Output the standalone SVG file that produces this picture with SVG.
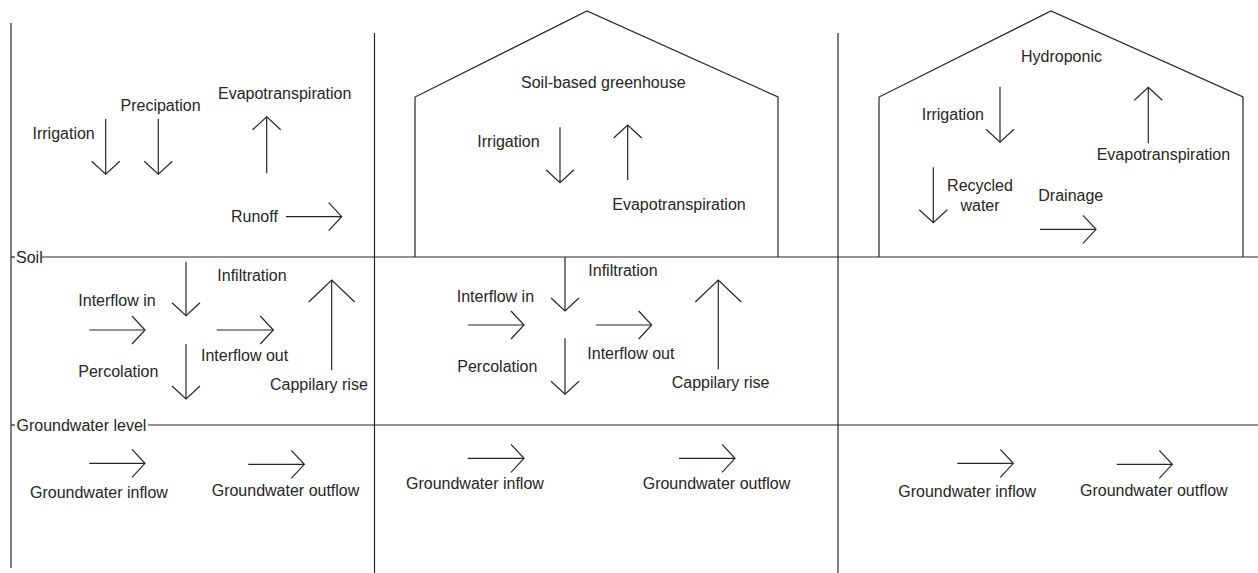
<svg xmlns="http://www.w3.org/2000/svg" width="1258" height="573" viewBox="0 0 1258 573">
<style>
.ln{stroke:#262626;stroke-width:1.2;fill:none}
.ar{stroke:#262626;stroke-width:1.2;fill:none;marker-end:url(#head)}
.arb{stroke:#262626;stroke-width:1.2;fill:none;marker-end:url(#headBig)}
text{font-family:"Liberation Sans",Arial,sans-serif;font-size:16px;fill:#262626}
</style>
<defs>
<marker id="head" markerUnits="userSpaceOnUse" viewBox="-15 -16 17 32" markerWidth="17" markerHeight="32" refX="0" refY="0" orient="auto">
<path d="M-13,-14 L0,0 L-13,14" fill="none" stroke="#262626" stroke-width="1.2"/>
</marker>
<marker id="headBig" markerUnits="userSpaceOnUse" viewBox="-24 -25 26 50" markerWidth="26" markerHeight="50" refX="0" refY="0" orient="auto">
<path d="M-22,-23 L0,0 L-22,23" fill="none" stroke="#262626" stroke-width="1.2"/>
</marker>
</defs>
<rect width="1258" height="573" fill="#fff"/>
<g id="frame">
<line class="ln" x1="11" y1="23" x2="11" y2="568"/>
<line class="ln" x1="374.5" y1="33" x2="374.5" y2="573"/>
<line class="ln" x1="838" y1="33" x2="838" y2="573"/>
<line class="ln" x1="11" y1="257" x2="15" y2="257"/>
<line class="ln" x1="42" y1="257" x2="1258" y2="257"/>
<line class="ln" x1="11" y1="425" x2="15" y2="425"/>
<line class="ln" x1="148" y1="425" x2="1258" y2="425"/>
<text x="16" y="262.5">Soil</text>
<text x="16.5" y="430.5">Groundwater level</text>
</g>
<g id="greenhouse-soil">
<polyline class="ln" points="415,257 415,97 587,11 778,97 778,257"/>
<text x="521" y="87.5">Soil-based greenhouse</text>
</g>
<g id="greenhouse-hydroponic">
<polyline class="ln" points="879,257 879,97 1051,11 1243,97 1243,257"/>
<text x="1021" y="61.5">Hydroponic</text>
</g>
<g id="labels-open-field">
<text x="32.5" y="139">Irrigation</text>
<text x="120.5" y="110.5">Precipation</text>
<text x="218" y="99">Evapotranspiration</text>
<text x="231" y="222.3">Runoff</text>
<text x="217.3" y="280.7">Infiltration</text>
<text x="78.3" y="306">Interflow in</text>
<text x="201" y="361">Interflow out</text>
<text x="78.3" y="377.3">Percolation</text>
<text x="270" y="390">Cappilary rise</text>
<text x="30" y="497.5">Groundwater inflow</text>
<text x="211.7" y="496">Groundwater outflow</text>
</g>
<g id="labels-soil-greenhouse">
<text x="477.3" y="146.5">Irrigation</text>
<text x="612.3" y="210">Evapotranspiration</text>
<text x="588.3" y="275.7">Infiltration</text>
<text x="456.7" y="302.3">Interflow in</text>
<text x="587.3" y="359">Interflow out</text>
<text x="457.3" y="371.7">Percolation</text>
<text x="671.7" y="388.3">Cappilary rise</text>
<text x="406" y="489">Groundwater inflow</text>
<text x="642.7" y="489">Groundwater outflow</text>
</g>
<g id="labels-hydroponic">
<text x="921.7" y="120">Irrigation</text>
<text x="1096.7" y="160">Evapotranspiration</text>
<text x="980" y="190.7" text-anchor="middle">Recycled</text>
<text x="980" y="210.7" text-anchor="middle">water</text>
<text x="1038.3" y="200.7">Drainage</text>
<text x="898.3" y="497.3">Groundwater inflow</text>
<text x="1080" y="495.7">Groundwater outflow</text>
</g>
<g id="connectors">
<line class="ar" x1="105.7" y1="119" x2="105.7" y2="174.3"/>
<line class="ar" x1="158.3" y1="119" x2="158.3" y2="174.3"/>
<line class="ar" x1="266.7" y1="173.3" x2="266.7" y2="116.7"/>
<line class="ar" x1="286" y1="216.7" x2="341.7" y2="216.7"/>
<line class="ar" x1="186" y1="261.7" x2="186" y2="315.7"/>
<line class="ar" x1="89.3" y1="330" x2="145" y2="330"/>
<line class="ar" x1="216.7" y1="330" x2="273.3" y2="330"/>
<line class="ar" x1="186" y1="344" x2="186" y2="399"/>
<line class="arb" x1="331.7" y1="370" x2="331.7" y2="280"/>
<line class="ar" x1="89.3" y1="463.3" x2="145" y2="463.3"/>
<line class="ar" x1="248.3" y1="464.3" x2="304.3" y2="464.3"/>
<line class="ar" x1="560" y1="127.3" x2="560" y2="182.7"/>
<line class="ar" x1="627.7" y1="180" x2="627.7" y2="125"/>
<line class="ar" x1="565" y1="257" x2="565" y2="311"/>
<line class="ar" x1="467.7" y1="325" x2="524" y2="325"/>
<line class="ar" x1="595.7" y1="325" x2="651.7" y2="325"/>
<line class="ar" x1="565" y1="338.3" x2="565" y2="394.3"/>
<line class="arb" x1="718.3" y1="369.3" x2="718.3" y2="280"/>
<line class="ar" x1="467.7" y1="458.3" x2="524" y2="458.3"/>
<line class="ar" x1="679" y1="458.3" x2="735" y2="458.3"/>
<line class="ar" x1="1000" y1="86.7" x2="1000" y2="142.3"/>
<line class="ar" x1="1148.3" y1="143.3" x2="1148.3" y2="87.3"/>
<line class="ar" x1="933.3" y1="167.3" x2="933.3" y2="222.7"/>
<line class="ar" x1="1040" y1="229.3" x2="1096" y2="229.3"/>
<line class="ar" x1="957.3" y1="463.3" x2="1013.3" y2="463.3"/>
<line class="ar" x1="1116.7" y1="464.3" x2="1172.3" y2="464.3"/>
</g>
</svg>
